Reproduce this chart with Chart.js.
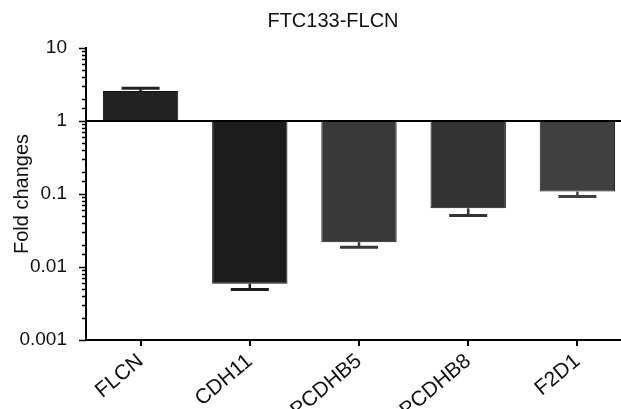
<!DOCTYPE html>
<html><head><meta charset="utf-8">
<script src="https://cdn.jsdelivr.net/npm/chart.js@4/dist/chart.umd.min.js"></script>
<style>
html,body{margin:0;padding:0;background:#fff;overflow:hidden;}
#wrap{width:621px;height:409px;overflow:hidden;position:relative;background:#fff;}
#c{position:absolute;left:0;top:0;}
</style></head><body>
<div id="wrap"><canvas id="c" width="632" height="409"></canvas></div>
<script>
const chartTitle = 'FTC133-FLCN';
const yAxisTitle = 'Fold changes';
const categories = ['FLCN', 'CDH11', 'PCDHB5', 'PCDHB8', 'F2D1'];
const foldChanges = [2.57, 0.0059, 0.0219, 0.0636, 0.108];
const errorEnds = [2.82, 0.0049, 0.0187, 0.0506, 0.0927];
const barColors = ['#222222', '#1c1c1c', '#383838', '#333333', '#404040'];
const yTickLabels = ['0.001', '0.01', '0.1', '1', '10'];
const yMin = 0.001, yMax = 10, baseline = 1;

const FONT = "'Liberation Sans', Arial, Helvetica, sans-serif";

function isDecade(v) {
  const l = Math.log10(v);
  return Math.abs(l - Math.round(l)) < 1e-6;
}

const decorPlugin = {
  id: 'decor',
  afterDatasetsDraw(chart) {
    const ctx = chart.ctx;
    const y = chart.scales.y;
    const area = chart.chartArea;
    const meta = chart.getDatasetMeta(0);
    ctx.save();
    // error bars
    meta.data.forEach((bar, i) => {
      const yv = y.getPixelForValue(foldChanges[i]);
      const ye = y.getPixelForValue(errorEnds[i]);
      ctx.strokeStyle = barColors[i];
      ctx.lineWidth = 2.5;
      ctx.beginPath();
      ctx.moveTo(bar.x, yv);
      ctx.lineTo(bar.x, ye);
      ctx.stroke();
      ctx.lineWidth = 3;
      ctx.beginPath();
      ctx.moveTo(bar.x - 19, ye);
      ctx.lineTo(bar.x + 19, ye);
      ctx.stroke();
    });
    // baseline at 1
    const yb = y.getPixelForValue(baseline);
    ctx.strokeStyle = '#000';
    ctx.lineWidth = 2;
    ctx.beginPath();
    ctx.moveTo(area.left, yb);
    ctx.lineTo(area.right, yb);
    ctx.stroke();
    // y ticks (major/minor)
    ctx.lineWidth = 1.5;
    y.ticks.forEach(t => {
      const p = Math.round(y.getPixelForValue(t.value)) + 0.5;
      const len = isDecade(t.value) ? 7 : 4;
      ctx.beginPath();
      ctx.moveTo(area.left - len, p);
      ctx.lineTo(area.left, p);
      ctx.stroke();
    });
    ctx.restore();
  },
  afterDraw(chart) {
    const ctx = chart.ctx;
    ctx.save();
    ctx.fillStyle = '#111';
    ctx.font = '20px ' + FONT;
    ctx.textAlign = 'center';
    ctx.textBaseline = 'middle';
    ctx.fillText(chartTitle, 333, 21);
    ctx.restore();
  }
};

new Chart(document.getElementById('c'), {
  type: 'bar',
  data: {
    labels: categories,
    datasets: [{
      data: foldChanges,
      base: baseline,
      backgroundColor: barColors,
      borderColor: '#151515',
      borderWidth: 1,
      barPercentage: 0.69,
      categoryPercentage: 1
    }]
  },
  options: {
    responsive: false,
    devicePixelRatio: 1,
    animation: false,
    layout: { padding: { top: 48, left: 0, right: 0, bottom: 0 } },
    plugins: { legend: { display: false }, tooltip: { enabled: false }, title: { display: false } },
    scales: {
      x: {
        grid: { display: true, drawOnChartArea: false, drawTicks: true, tickLength: 6, offset: false, color: '#000', lineWidth: 2 },
        border: { display: true, color: '#000', width: 2 },
        ticks: { color: '#111', font: { family: FONT, size: 21 }, minRotation: 40, maxRotation: 40, padding: 3, autoSkip: false },
        afterFit(scale) { scale.height = 69; }
      },
      y: {
        type: 'logarithmic',
        min: yMin,
        max: yMax,
        grid: { display: false },
        border: { display: true, color: '#000', width: 2 },
        ticks: {
          autoSkip: false,
          color: '#111',
          font: { family: FONT, size: 19 },
          padding: 11,
          callback(v) {
            if (!isDecade(v)) return '';
            const idx = Math.round(Math.log10(v)) - Math.round(Math.log10(yMin));
            return yTickLabels[idx] !== undefined ? yTickLabels[idx] : '';
          }
        },
        title: { display: true, text: yAxisTitle, color: '#111', font: { family: FONT, size: 20 }, padding: { top: 10, bottom: 0 } },
        afterFit(scale) { scale.width = 86; }
      }
    }
  },
  plugins: [decorPlugin]
});
</script>
</body></html>
